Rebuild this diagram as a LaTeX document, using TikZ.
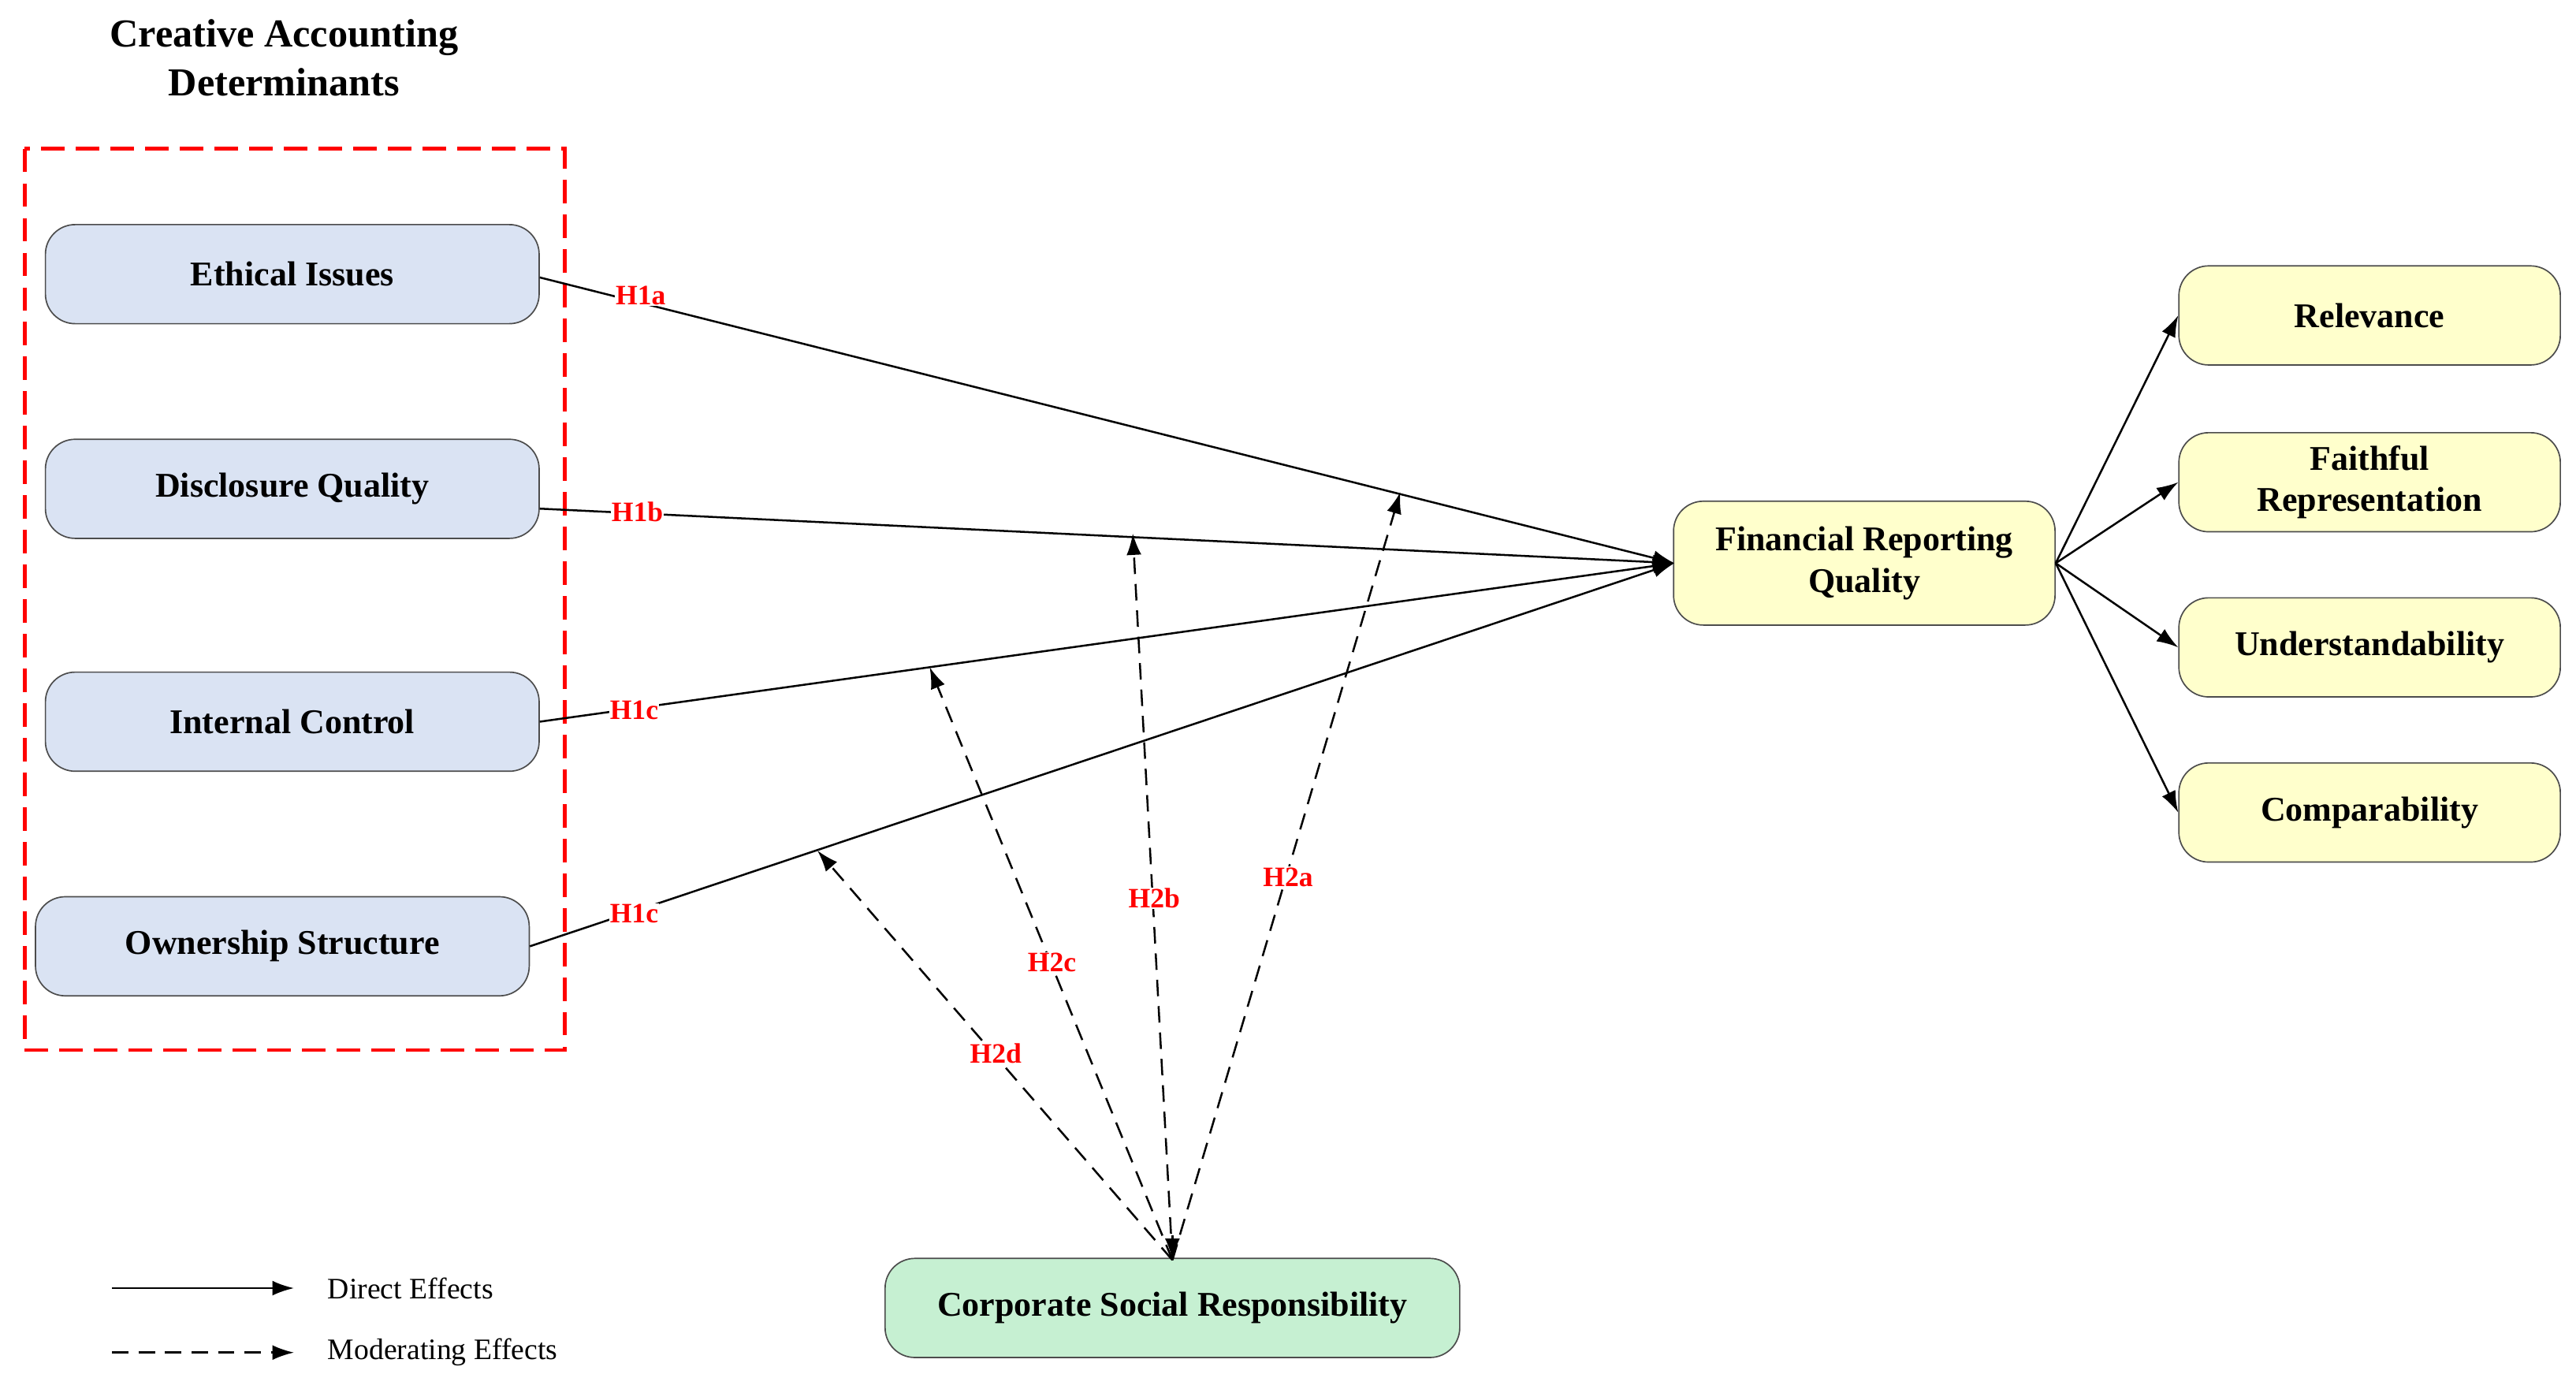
\documentclass[tikz,border=0pt]{standalone}
\usepackage{fontspec}
\setmainfont{Liberation Serif}
\usetikzlibrary{arrows.meta}
\definecolor{bluef}{HTML}{DAE3F3}
\definecolor{yelf}{HTML}{FFFFCC}
\definecolor{grnf}{HTML}{C6F0D2}
\begin{document}
\begin{tikzpicture}[x=1pt,y=-1pt,
 box/.style={draw=black!70,line width=0.8pt,rounded corners=18pt,minimum width=299pt,minimum height=60pt,align=center,font=\fontsize{21}{25}\selectfont\bfseries},
 rbox/.style={box,minimum width=231pt},
 lab/.style={text=red,font=\fontsize{17}{19}\selectfont\bfseries,fill=white,inner sep=0.5pt},
 dir/.style={line width=1.2pt,-{Latex[length=13pt,width=9pt]}},
 mod/.style={line width=1.2pt,dash pattern=on 10pt off 6pt,-{Latex[length=13pt,width=9pt]}}]
\useasboundingbox (0,0) rectangle (1560,834.4);
\node[align=center,font=\fontsize{24}{30}\selectfont\bfseries] (title) at (172,35) {Creative Accounting\\Determinants};
\draw[red,line width=2pt,dash pattern=on 14pt off 7pt] (15,90) rectangle (342,636);
\node[box,fill=bluef] (eth) at (177,166) {Ethical Issues};
\node[box,fill=bluef] (dis) at (177,296) {Disclosure Quality};
\node[box,fill=bluef] (int) at (177,437) {Internal Control};
\node[box,fill=bluef] (own) at (171,573) {Ownership Structure};
\node[box,fill=yelf,minimum width=231pt,minimum height=75pt] (frq) at (1129,341) {Financial Reporting\\Quality};
\node[rbox,fill=yelf] (rel) at (1435,191) {Relevance};
\node[rbox,fill=yelf] (fai) at (1435,292) {Faithful\\Representation};
\node[rbox,fill=yelf] (und) at (1435,392) {Understandability};
\node[rbox,fill=yelf] (com) at (1435,492) {Comparability};
\node[box,fill=grnf,minimum width=348pt] (csr) at (710,792) {Corporate Social Responsibility};
\coordinate (t) at (1014,341);
\draw[dir] (eth.east) ++(0,2) coordinate (e1) -- (t);
\draw[dir] (dis.east) ++(0,12) coordinate (d1) -- (t);
\draw[dir] (int.east) -- (t);
\draw[dir] (own.east) -- (t);
\draw[dir] (frq.east) -- (rel.west);
\draw[dir] (frq.east) -- (fai.west);
\draw[dir] (frq.east) -- (und.west);
\draw[dir] (frq.east) -- (com.west);
\node[lab] (h1a) at (388,179) {H1a};
\node[lab] (h1b) at (386,310) {H1b};
\node[lab] (h1c) at (384,430) {H1c};
\node[lab] (h1d) at (384,553) {H1c};
\coordinate (a) at (848,298);
\coordinate (b) at (686,323);
\coordinate (c) at (563,404);
\coordinate (d) at (495,515);
\coordinate (s) at (710,763);
\draw[mod] (s) -- (a);
\draw[mod] (s) -- (b);
\draw[mod] (s) -- (c);
\draw[mod] (s) -- (d);
\draw[line width=1.2pt,-{Latex[length=13pt,width=9pt]}] (710,748) -- (s);
\node[lab] (h2a) at (780,531) {H2a};
\node[lab] (h2b) at (699,544) {H2b};
\node[lab] (h2c) at (637,583) {H2c};
\node[lab] (h2d) at (603,638) {H2d};
\coordinate (l1) at (68,780); \coordinate (l2) at (178,780);
\coordinate (l3) at (68,819); \coordinate (l4) at (178,819);
\draw[dir] (l1) -- (l2);
\draw[mod] (l3) -- (l4);
\node[anchor=west,font=\fontsize{18}{21}\selectfont] (t1) at (195,780) {Direct Effects};
\node[anchor=west,font=\fontsize{18}{21}\selectfont] (t2) at (195,819) {Moderating Effects};
\end{tikzpicture}
\end{document}
